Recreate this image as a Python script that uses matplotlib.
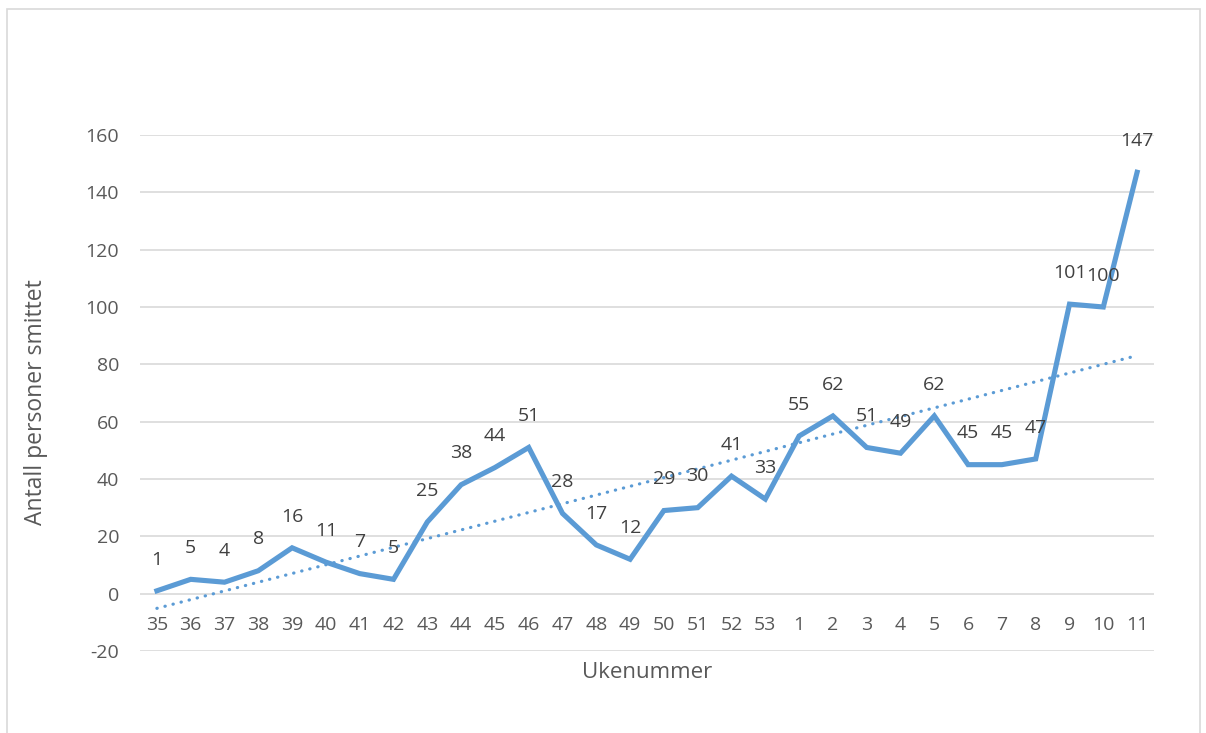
import matplotlib.pyplot as plt
import numpy as np
from matplotlib.patches import Rectangle

weeks = ['35', '36', '37', '38', '39', '40', '41', '42', '43', '44', '45', '46',
         '47', '48', '49', '50', '51', '52', '53', '1', '2', '3', '4', '5',
         '6', '7', '8', '9', '10', '11']
infected = [1, 5, 4, 8, 16, 11, 7, 5, 25, 38, 44, 51, 28, 17, 12, 29, 30, 41,
            33, 55, 62, 51, 49, 62, 45, 45, 47, 101, 100, 147]
yticks = [-20, 0, 20, 40, 60, 80, 100, 120, 140, 160]

blue = '#5B9BD5'
plt.rcParams['font.family'] = ['Open Sans', 'DejaVu Sans']
plt.rcParams['axes.unicode_minus'] = False

fig = plt.figure(figsize=(12.06, 7.33), dpi=100)
ax = fig.add_axes([140 / 1206, 1 - 651 / 733, (1154 - 140) / 1206, (651 - 135) / 733])

x = np.arange(len(weeks))
ax.plot(x, infected, color=blue, lw=3.7, solid_joinstyle='miter', zorder=3)

# lineær trendlinje
k, m = np.polyfit(x, infected, 1)
ax.plot(x, k * x + m, color=blue, lw=2.3, ls=(0, (0.1, 2.5)),
        dash_capstyle='round', zorder=2)

for xi, v in zip(x, infected):
    ax.annotate(str(v), (xi, v), xytext=(0, 22.5), textcoords='offset points',
                ha='center', va='center', fontsize=14, color='#404040')

ax.set_xlim(-0.5, len(weeks) - 0.5)
ax.set_ylim(-20, 160)
ax.set_yticks(yticks)
ax.set_xticks(x)
ax.set_xticklabels(weeks)
ax.grid(axis='y', color='#D9D9D9', lw=1.2)
ax.set_axisbelow(True)
for s in ax.spines.values():
    s.set_visible(False)
ax.spines['bottom'].set_position(('data', 0))
ax.tick_params(length=0, labelsize=14, labelcolor='#595959')
ax.tick_params(axis='x', pad=16)
ax.tick_params(axis='y', pad=15)

fig.text(647 / 1206, 1 - 673 / 733, 'Ukenummer', ha='center', va='center',
         fontsize=16, color='#595959')
fig.text(36 / 1206, 1 - 402 / 733, 'Antall personer smittet', ha='center',
         va='center', rotation=90, fontsize=16.5, color='#595959')

fig.patches.append(Rectangle((7 / 1206, -0.01), (1200 - 7) / 1206, 1 - 9 / 733 + 0.01,
                             transform=fig.transFigure, fill=False,
                             edgecolor='#D9D9D9', lw=1.2))

fig.savefig('out.png', dpi=100)
